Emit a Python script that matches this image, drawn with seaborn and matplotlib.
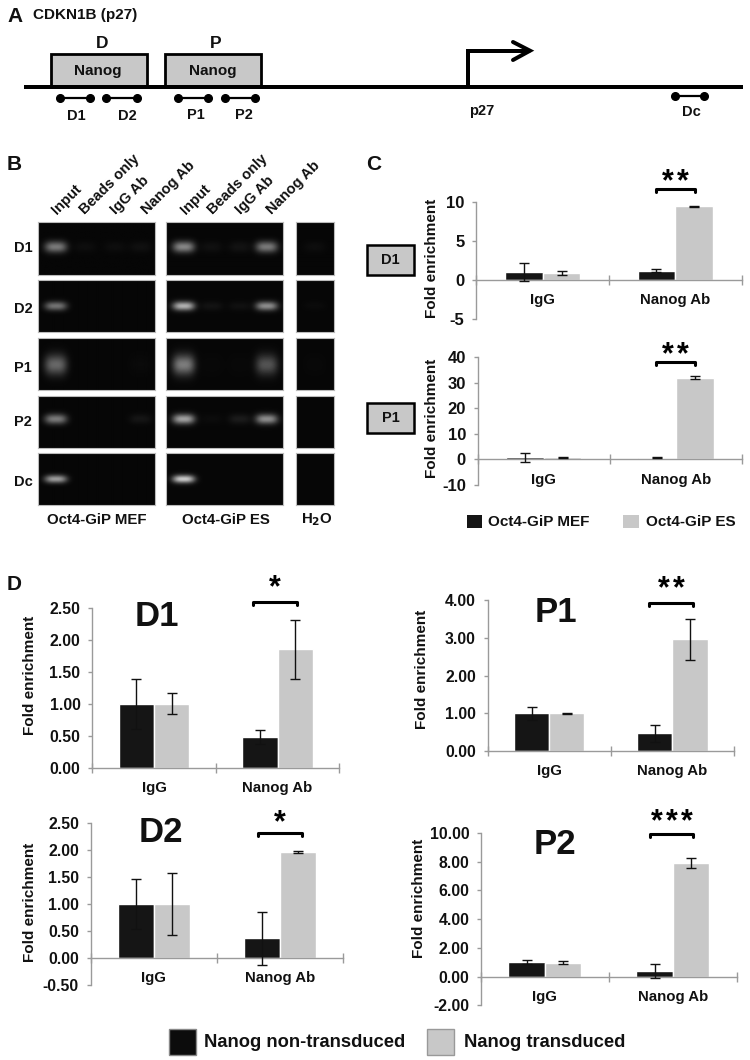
import numpy as np
import pandas as pd
import matplotlib
matplotlib.use('Agg')
import matplotlib.pyplot as plt
import seaborn as sns

W, H = 750, 1060

sns.set_style('white')
plt.rcParams['font.family'] = ['Liberation Sans', 'DejaVu Sans']
plt.rcParams['font.weight'] = 'bold'

GROUPS = ['IgG', 'Nanog Ab']
DARK = '#151515'
LIGHT = '#c8c8c8'
AXIS = '#9a9a9a'

# panel C
c_series = ['Oct4-GiP MEF', 'Oct4-GiP ES']
c_d1_mef = [1.0, 1.2]
c_d1_mef_err = [1.2, 0.15]
c_d1_es = [0.9, 9.4]
c_d1_es_err = [0.3, 0.05]
c_d1_ticks = [-5, 0, 5, 10]
c_p1_mef = [0.8, 0.6]
c_p1_mef_err = [1.7, 0.2]
c_p1_es = [0.8, 32.0]
c_p1_es_err = [0.2, 0.6]
c_p1_ticks = [-10, 0, 10, 20, 30, 40]

# panel D
d_series = ['Nanog non-transduced', 'Nanog transduced']
d1_non = [1.0, 0.48]
d1_non_err = [0.39, 0.11]
d1_tr = [1.0, 1.85]
d1_tr_err = [0.16, 0.46]
d1_ticks = [0, 0.5, 1.0, 1.5, 2.0, 2.5]
d2_non = [1.0, 0.37]
d2_non_err = [0.46, 0.49]
d2_tr = [1.0, 1.96]
d2_tr_err = [0.57, 0.01]
d2_ticks = [-0.5, 0, 0.5, 1.0, 1.5, 2.0, 2.5]
p1_non = [1.0, 0.47]
p1_non_err = [0.18, 0.23]
p1_tr = [1.0, 2.95]
p1_tr_err = [0.02, 0.53]
p1_ticks = [0, 1, 2, 3, 4]
p2_non = [1.02, 0.38]
p2_non_err = [0.12, 0.48]
p2_tr = [0.98, 7.9]
p2_tr_err = [0.1, 0.33]
p2_ticks = [-2, 0, 2, 4, 6, 8, 10]

# panel B, band brightness per row (D1, D2, P1, P2, Dc) and lane
gel_rows = ['D1', 'D2', 'P1', 'P2', 'Dc']
lanes = ['Input', 'Beads only', 'IgG Ab', 'Nanog Ab']
gel_mef = [[0.45, 0.03, 0.03, 0.04],
           [0.42, 0.0, 0.0, 0.0],
           [0.38, 0.0, 0.0, 0.015],
           [0.45, 0.0, 0.0, 0.06],
           [0.58, 0.0, 0.0, 0.0]]
gel_es = [[0.50, 0.04, 0.05, 0.45],
          [0.66, 0.05, 0.04, 0.52],
          [0.46, 0.01, 0.01, 0.30],
          [0.60, 0.02, 0.08, 0.52],
          [0.76, 0.0, 0.0, 0.0]]
gel_h2o = [0.03, 0.02, 0.01, 0.0, 0.0]


def add_ax(x0, x1, ytop, ybottom):
    return fig.add_axes([x0 / W, 1 - ybottom / H, (x1 - x0) / W, (ybottom - ytop) / H])


def bar_panel(box, s1, s2, e1, e2, names, ticks, fmt, fs, label_x, label_y):
    ax = add_ax(*box)
    df = pd.DataFrame({
        'group': GROUPS * 2,
        'value': s1 + s2,
        'series': [names[0]] * 2 + [names[1]] * 2,
    })
    sns.barplot(data=df, x='group', y='value', hue='series', palette=[DARK, LIGHT],
                width=0.57, gap=0, saturation=1, errorbar=None, legend=False, ax=ax)
    for cont, err in zip(ax.containers, [e1, e2]):
        xs = [b.get_x() + b.get_width() / 2 for b in cont]
        ys = [b.get_height() for b in cont]
        ax.errorbar(xs, ys, yerr=err, fmt='none', ecolor='#111111', elinewidth=1,
                    capsize=3.5, capthick=1, zorder=5)
    ax.set_xlim(-0.5, 1.5)
    ax.set_ylim(min(ticks), max(ticks))
    ax.patch.set_alpha(0)
    for s in ['top', 'right']:
        ax.spines[s].set_visible(False)
    for s in ['left', 'bottom']:
        ax.spines[s].set_color(AXIS)
        ax.spines[s].set_linewidth(1)
    ax.spines['bottom'].set_position(('data', 0))
    ax.set_yticks(ticks, [fmt.format(t) for t in ticks], fontsize=fs, fontweight='bold')
    ax.tick_params(axis='y', left=True, length=3, width=1, color=AXIS, pad=5.5, labelcolor='#111111')
    ax.set_xticks([-0.5, 0.5, 1.5], ['', '', ''])
    ax.tick_params(axis='x', which='major', bottom=True, direction='inout', length=7, width=1, color=AXIS)
    ax.set_xticks([0, 1], minor=True)
    ax.set_xticklabels(GROUPS, minor=True, fontsize=10.8, fontweight='bold', color='#111111')
    ax.tick_params(axis='x', which='minor', bottom=False, length=0, pad=9.5)
    ax.set_xlabel('')
    ax.set_ylabel('Fold enrichment', fontsize=11, fontweight='bold', color='#111111')
    ax.yaxis.set_label_coords((label_x - box[0]) / (box[1] - box[0]),
                              (box[3] - label_y) / (box[3] - box[2]))
    ax.yaxis.label.set_va('center')
    return ax


def gel_image(values, w, h, centers, band_y, sx, sy):
    xx, yy = np.meshgrid(np.arange(w) + 0.5, np.arange(h) + 0.5)
    img = np.full((h, w), 0.025)
    for v, cx in zip(values, centers):
        if v > 0:
            img += v * np.exp(-(np.abs(xx - cx) / sx) ** 3 - ((yy - band_y) / sy) ** 2)
    return np.clip(img, 0, 1)


fig = plt.figure(figsize=(W / 100, H / 100), dpi=100, facecolor='white')

# bar charts
bar_panel((476.3, 741.7, 201.7, 319), c_d1_mef, c_d1_es, c_d1_mef_err, c_d1_es_err, c_series, c_d1_ticks, '{:d}', 12, 432.5, 258)
bar_panel((477.7, 742, 357.3, 485), c_p1_mef, c_p1_es, c_p1_mef_err, c_p1_es_err, c_series, c_p1_ticks, '{:d}', 12, 432.5, 418)
bar_panel((92.3, 339.3, 607.7, 767.7), d1_non, d1_tr, d1_non_err, d1_tr_err, d_series, d1_ticks, '{:.2f}', 11.3, 30, 675)
bar_panel((90.7, 343.3, 822.7, 985.3), d2_non, d2_tr, d2_non_err, d2_tr_err, d_series, d2_ticks, '{:.2f}', 11.3, 30, 902)
bar_panel((487.7, 734, 599.7, 751.3), p1_non, p1_tr, p1_non_err, p1_tr_err, d_series, p1_ticks, '{:.2f}', 11.3, 422, 669)
bar_panel((481, 736.7, 833, 1005.3), p2_non, p2_tr, p2_non_err, p2_tr_err, d_series, p2_ticks, '{:.2f}', 11.3, 419, 898)

# gels
row_top = [222.3, 280, 338.3, 396, 453]
row_bottom = [274.7, 332, 390, 448, 505]
band_ys = [246.7, 306, 365, 419, 479]
band_sy = [5.5, 4.5, 10, 5, 4]
cols = [(38.3, 155.3, [56, 85, 115, 140]), (166.3, 283.3, [184, 212, 240, 267]), (296, 333.7, [315])]
for r in range(5):
    for c, (x0, x1, centers) in enumerate(cols):
        ax = add_ax(x0, x1, row_top[r], row_bottom[r])
        vals = [gel_mef[r], gel_es[r], [gel_h2o[r]]][c]
        w, h = int(round(x1 - x0)), int(round(row_bottom[r] - row_top[r]))
        img = gel_image(vals, w, h, [cx - x0 for cx in centers], band_ys[r] - row_top[r], 11, band_sy[r])
        ax.imshow(img, cmap='gray', vmin=0, vmax=1, aspect='auto', interpolation='bilinear')
        ax.set_xticks([])
        ax.set_yticks([])
        for s in ax.spines.values():
            s.set_color('#bbbbbb')
            s.set_linewidth(0.8)

# overlay in pixel coordinates for schematic and annotations
ov = fig.add_axes([0, 0, 1, 1], zorder=10)
ov.set_xlim(0, W)
ov.set_ylim(H, 0)
ov.axis('off')


def txt(x, y, s, fs=10, ha='center', va='center', **kw):
    ov.text(x, y, s, fontsize=fs, ha=ha, va=va, fontweight='bold', color='#111111', **kw)


def bracket(x0, x1, y, n_stars, star_y):
    ov.plot([x0, x0, x1, x1], [y + 3, y, y, y + 3], color='black', lw=2.2, solid_joinstyle='round', solid_capstyle='round')
    # stars one by one, they sit further apart than the font spaces them
    mid = (x0 + x1) / 2
    for i in range(n_stars):
        ov.text(mid + (i - (n_stars - 1) / 2) * 15, star_y + 13, '*', fontsize=22, ha='center',
                va='baseline', fontweight='bold', color='black')


# panel A
LW = 4 * 0.72
for (x0, x1, name, cap) in [(50.8, 146.6, 'Nanog', 'D'), (165, 261, 'Nanog', 'P')]:
    ov.add_patch(plt.Rectangle((x0, 54), x1 - x0, 32, fc=LIGHT, ec='black', lw=2))
    txt((x0 + x1) / 2 - 0.5, 71, name, fs=11)
    txt((x0 + x1) / 2 + 3, 44, cap, fs=12.5)
ov.plot([24, 743], [86.7, 86.7], color='black', lw=LW, solid_capstyle='butt')
ov.plot([467.6, 467.6, 529], [86.7, 50.7, 50.7], color='black', lw=LW, solid_joinstyle='miter')
ov.plot([513, 530, 513], [42, 50.7, 60], color='black', lw=LW, solid_joinstyle='miter')
primers = [(60, 90, 97.7, 'D1', 76.7, 116), (106, 137, 97.7, 'D2', 127, 116),
           (178, 207.5, 97.7, 'P1', 195.5, 115), (225, 255, 97.7, 'P2', 244, 115),
           (675, 704, 96.3, 'Dc', 691, 112)]
for x0, x1, y, name, lx, ly in primers:
    ov.plot([x0, x1], [y, y], color='black', lw=1.6, marker='o', ms=5.5)
    txt(lx, ly, name, fs=10.5)
txt(481.5, 111, 'p27', fs=10.5)
txt(32.6, 15, 'CDKN1B (p27)', fs=11, ha='left')

# panel letters
txt(7, 16, 'A', fs=15, ha='left')
txt(7, 165, 'B', fs=15, ha='left')
txt(366, 165, 'C', fs=15, ha='left')
txt(7, 585, 'D', fs=15, ha='left')

# panel B labels
for x, s in zip([59, 87, 118, 149, 188, 215, 243, 274], lanes * 2):
    ov.text(x, 217, s, fontsize=10.5, rotation=45, rotation_mode='anchor', ha='left', va='bottom',
            fontweight='bold', color='#111111')
for y, s in zip([248, 309, 367.7, 422, 481.7], gel_rows):
    txt(14, y, s, fs=10.5, ha='left')
txt(96.7, 520, 'Oct4-GiP MEF', fs=10.8)
txt(225.7, 520, 'Oct4-GiP ES', fs=10.8)
txt(317, 520, 'H$\\mathbf{_2}$O', fs=10.8)

# panel C boxes, brackets, legend
for y0, s in [(245, 'D1'), (402.7, 'P1')]:
    ov.add_patch(plt.Rectangle((367, y0), 47.3, 30, fc=LIGHT, ec='black', lw=1.8))
    txt(390.7, y0 + 15.5, s, fs=10.5)
bracket(656, 695, 189.3, 2, 177)
bracket(656, 695, 361.7, 2, 350)
ov.add_patch(plt.Rectangle((466.7, 515), 15.6, 13, fc=DARK, ec='none'))
txt(488, 522, c_series[0], fs=11, ha='left')
ov.add_patch(plt.Rectangle((623, 515), 16, 13, fc=LIGHT, ec='none'))
txt(645.7, 522, c_series[1], fs=11, ha='left')

# panel D titles, brackets, legend
for x, y, s in [(157, 617, 'D1'), (160.7, 833, 'D2'), (556, 612.7, 'P1'), (555, 845, 'P2')]:
    txt(x, y, s, fs=25)
bracket(253, 297, 601.7, 1, 583)
bracket(258, 302, 833, 1, 818)
bracket(649, 693, 603, 2, 584)
bracket(650, 693, 834, 3, 817)
ov.add_patch(plt.Rectangle((168.5, 1028.5), 27, 26.5, fc='#0c0c0c', ec='#888888', lw=1))
txt(204, 1042.7, d_series[0], fs=13.2, ha='left')
ov.add_patch(plt.Rectangle((427, 1028.5), 27, 26.5, fc=LIGHT, ec='#999999', lw=1))
txt(464, 1042.7, d_series[1], fs=13.2, ha='left')

fig.savefig('out.png', dpi=100)
